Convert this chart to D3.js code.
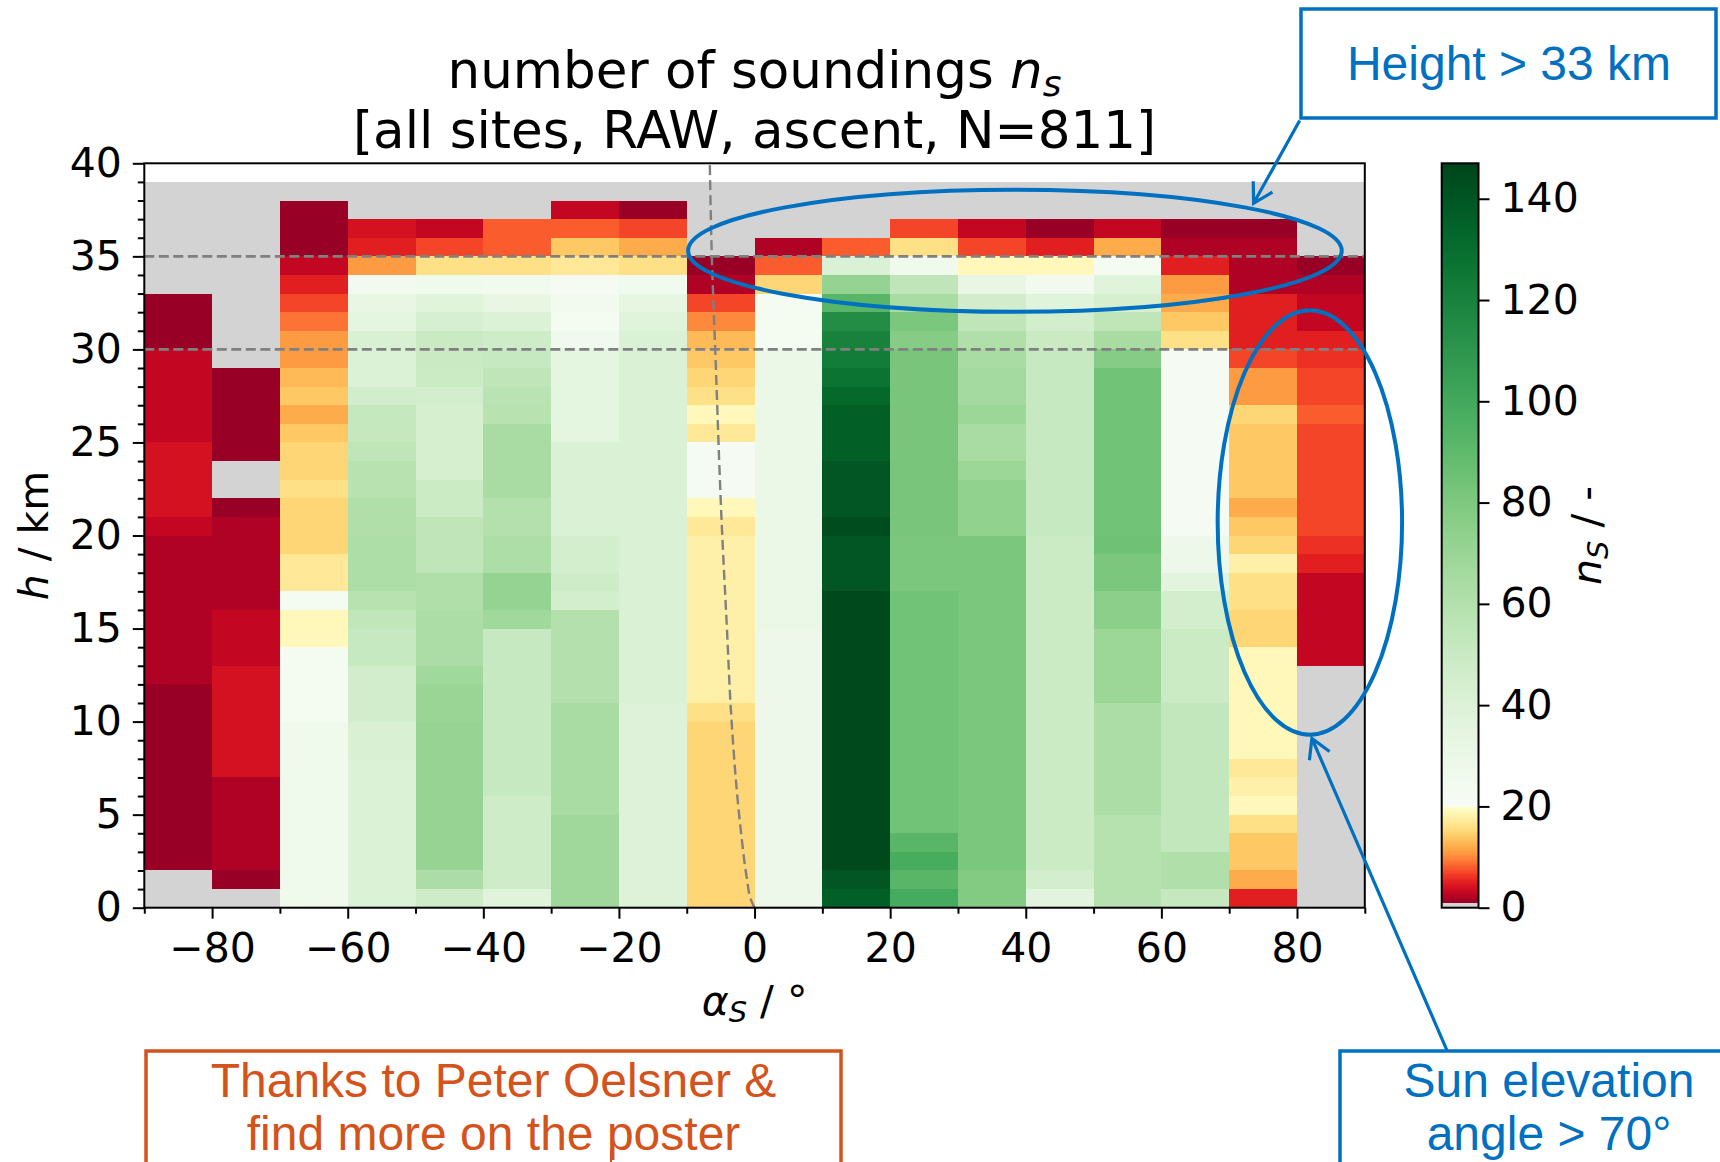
<!DOCTYPE html>
<html><head><meta charset="utf-8">
<script src="https://cdn.jsdelivr.net/npm/d3@7"></script>
<style>
body{margin:0;background:#fff;}
svg{display:block;}
.ax text{font-family:"DejaVu Sans",sans-serif;}
</style>
</head><body>
<svg id="chart" width="1720" height="1162"></svg>
<script>
// ---------------- data ----------------
const binStarts = [-90,-80,-70,-60,-50,-40,-30,-20,-10,0,10,20,30,40,50,60,70,80];
const binWidth = 10;      // degrees
const rowHeight = 1;      // km; row index r covers [r, r+1] km
// number of soundings per bin, listed from row 0 (0-1 km) to row 38 (38-39 km)
const n_m90 = [0,0,1,1,1,1,1,1,1,1,1,1,2,2,2,2,2,2,2,2,3,4,4,4,4,3,3,3,3,3,1,1,1,0,0,0,0,0,0];
const n_m80 = [0,1,2,2,2,2,2,4,4,4,4,4,4,3,3,3,2,2,2,2,2,1,0,0,1,1,1,1,1,0,0,0,0,0,0,0,0,0,0];
const n_m70 = [27,27,27,27,27,27,27,27,27,27,23,23,23,23,19,19,23,17,17,15,15,15,16,15,15,14,12,14,13,11,11,9,7,5,3,1,1,1,0];
const n_m60 = [40,40,40,40,40,40,40,40,42,42,46,46,46,51,51,54,58,62,62,62,61,61,58,58,55,52,52,46,40,40,42,35,32,24,11,5,4,0,0];
const n_m50 = [47,63,71,71,71,71,71,71,71,71,70,70,67,63,63,63,61,61,55,55,55,49,49,44,44,44,44,45,49,50,50,43,38,27,16,7,3,0,0];
const n_m40 = [38,48,48,48,48,48,51,51,51,51,51,51,51,51,51,67,72,72,62,62,60,60,64,64,64,64,58,57,55,51,47,40,32,25,16,8,8,0,0];
const n_m30 = [68,68,68,68,68,64,64,64,64,64,64,60,60,60,60,60,45,48,45,45,41,41,41,41,41,35,35,35,35,35,26,23,24,22,17,14,8,3,0];
const n_m20 = [39,39,39,39,39,39,39,39,39,39,39,41,41,41,41,41,41,41,41,41,41,41,41,41,41,41,41,41,41,41,41,38,33,25,16,12,7,1,0];
const n_m10 = [15,15,15,15,15,15,15,15,15,15,16,18,18,18,18,18,18,18,18,18,17,19,22,22,22,17,19,16,15,14,13,10,7,2,1,0,0,0,0];
const n_0   = [28,28,28,28,28,28,28,28,28,28,28,28,28,28,28,30,30,30,30,30,30,30,30,30,30,30,30,30,30,30,23,23,23,15,8,2,0,0,0];
const n_10  = [136,140,145,145,145,145,145,145,145,145,145,145,145,145,145,145,145,140,140,140,144,140,140,140,136,136,136,132,127,123,120,115,92,72,41,8,0,0,0];
const n_20  = [99,92,98,92,84,84,84,84,84,84,84,84,84,84,84,84,84,81,81,81,82,82,82,82,82,82,82,82,82,82,77,81,64,55,27,16,7,0,0];
const n_30  = [78,78,81,81,81,81,81,81,81,81,81,81,81,81,81,81,81,81,81,81,73,73,73,69,64,64,69,66,66,64,61,55,46,32,19,7,3,0,0];
const n_40  = [36,45,49,49,49,49,49,49,49,49,49,49,49,49,49,49,49,49,49,49,51,51,51,51,51,51,51,51,51,51,50,45,38,24,19,5,1,0,0];
const n_50  = [59,59,59,59,59,63,63,63,63,63,63,69,69,69,69,75,75,81,81,85,84,84,84,84,84,84,84,84,84,77,64,55,44,38,23,12,3,0,0];
const n_60  = [52,61,61,53,53,53,53,53,53,53,53,49,49,49,49,45,45,36,28,28,22,22,22,22,22,22,22,22,22,22,16,14,12,11,5,2,1,0,0];
const n_70  = [5,12,14,14,16,19,18,17,19,19,19,19,19,19,15,15,16,16,18,15,14,12,14,14,14,14,15,11,11,7,5,5,5,2,2,2,1,0,0];
const n_80  = [0,0,0,0,0,0,0,0,0,0,0,0,0,3,3,3,3,3,5,6,7,7,7,7,7,7,8,7,7,6,5,3,3,2,1,0,0,0,0];
const columns = [n_m90,n_m80,n_m70,n_m60,n_m50,n_m40,n_m30,n_m20,n_m10,n_0,n_10,n_20,n_30,n_40,n_50,n_60,n_70,n_80];

const xTicks = [-80,-60,-40,-20,0,20,40,60,80];
const xMinor = [-90,-70,-50,-30,-10,10,30,50,70,90];
const yTicks = [0,5,10,15,20,25,30,35,40];
const yMinor = [1,2,3,4,6,7,8,9,11,12,13,14,16,17,18,19,21,22,23,24,26,27,28,29,31,32,33,34,36,37,38,39];
const cbTicks = [0,20,40,60,80,100,120,140];
const vmax = 147;
const splitValue = 20;
const refHeights = [30, 35];
// horizon-dip curve (sun elevation in deg, height in km)
const curveAlpha = [0,-0.6,-1.1,-2.1,-3.4,-4.1,-4.8,-5.8,-6.3,-6.6];
const curveH     = [0,0.5,1.5,4.4,10.1,15.2,20.3,30,35,40];

// ---------------- layout ----------------
const L = 144.3, R = 1364.8, T = 163.3, B = 907.7;
const cbL = 1441.7, cbR = 1478.5;
const blue = "#0070c0", orange = "#d4531c";
const fontMain = '"DejaVu Sans", sans-serif';
const fontAnn = '"Liberation Sans", Arial, sans-serif';

const svg = d3.select("#chart");
const xs = d3.scaleLinear().domain([-90, 90]).range([L, R]);
const ys = d3.scaleLinear().domain([0, 40]).range([B, T]);
const yc = d3.scaleLinear().domain([0, vmax]).range([B, T]);

const colorOf = v => v < 1 ? "#d3d3d3"
  : v <= splitValue ? d3.interpolateYlOrRd((splitValue - v) / splitValue)
  : d3.interpolateGreens((v - splitValue) / (vmax - splitValue));

// ---------------- cells ----------------
const cells = [];
columns.forEach((col, i) => col.forEach((v, r) => cells.push({x0: binStarts[i], h0: r * rowHeight, v})));
svg.append("g").selectAll("rect").data(cells).join("rect")
  .attr("x", d => xs(d.x0))
  .attr("width", d => xs(d.x0 + binWidth) - xs(d.x0))
  .attr("y", d => ys(d.h0 + rowHeight))
  .attr("height", d => ys(d.h0) - ys(d.h0 + rowHeight))
  .attr("fill", d => colorOf(d.v))
  .attr("shape-rendering", "crispEdges");

// reference lines
svg.append("g").selectAll("line").data(refHeights).join("line")
  .attr("x1", xs(-90)).attr("x2", xs(90))
  .attr("y1", d => ys(d)).attr("y2", d => ys(d))
  .attr("stroke", "#808080").attr("stroke-width", 2.6).attr("stroke-dasharray", "10,4.5");

svg.append("path")
  .datum(curveH.map((h, i) => [curveAlpha[i], h]))
  .attr("d", d3.line().x(d => xs(d[0])).y(d => ys(d[1])).curve(d3.curveMonotoneY))
  .attr("fill", "none").attr("stroke", "#808080").attr("stroke-width", 2.4).attr("stroke-dasharray", "10,5");

// ---------------- axes ----------------
const fmt = d => (d < 0 ? "\u2212" + Math.abs(d) : "" + d);
const styleAxis = g => {
  g.attr("class", "ax");
  g.select(".domain").remove();
  g.selectAll(".tick line").attr("stroke", "#000").attr("stroke-width", 2);
  g.selectAll("text").attr("font-size", 41).attr("fill", "#000");
};
svg.append("g").attr("transform", `translate(0,${B})`)
  .call(d3.axisBottom(xs).tickValues(xTicks).tickFormat(fmt).tickSize(11).tickPadding(14)).call(styleAxis);
svg.append("g").attr("transform", `translate(0,${B})`)
  .call(d3.axisBottom(xs).tickValues(xMinor).tickFormat("").tickSize(6)).call(styleAxis);
svg.append("g").attr("transform", `translate(${L},0)`)
  .call(d3.axisLeft(ys).tickValues(yTicks).tickSize(11.5).tickPadding(11)).call(styleAxis);
svg.append("g").attr("transform", `translate(${L},0)`)
  .call(d3.axisLeft(ys).tickValues(yMinor).tickFormat("").tickSize(6.5)).call(styleAxis);

svg.append("rect").attr("x", L).attr("y", T).attr("width", R - L).attr("height", B - T)
  .attr("fill", "none").attr("stroke", "#000").attr("stroke-width", 2);

// ---------------- colorbar ----------------
const cbSteps = d3.range(0, vmax, 0.25);
svg.append("g").selectAll("rect").data(cbSteps).join("rect")
  .attr("x", cbL).attr("width", cbR - cbL)
  .attr("y", d => yc(Math.min(d + 0.25, vmax)))
  .attr("height", d => yc(d) - yc(Math.min(d + 0.25, vmax)) + 0.3)
  .attr("fill", d => colorOf(d + 0.125))
  .attr("shape-rendering", "crispEdges");
svg.append("rect").attr("x", cbL).attr("y", yc(vmax)).attr("width", cbR - cbL).attr("height", yc(0) - yc(vmax))
  .attr("fill", "none").attr("stroke", "#000").attr("stroke-width", 2);
svg.append("g").attr("transform", `translate(${cbR},0)`)
  .call(d3.axisRight(yc).tickValues(cbTicks).tickSize(11).tickPadding(11)).call(styleAxis);

// ---------------- text ----------------
const cx = (L + R) / 2;
const title = svg.append("text").attr("x", cx).attr("y", 88)
  .attr("text-anchor", "middle").attr("font-family", fontMain).attr("font-size", 51.5);
title.append("tspan").text("number of soundings ");
title.append("tspan").attr("font-style", "italic").text("n");
title.append("tspan").attr("font-style", "italic").attr("font-size", 36).attr("dy", 8).text("s");
title.append("tspan").attr("x", cx).attr("dy", 52).text("[all sites, RAW, ascent, N=811]");

const xl = svg.append("text").attr("x", cx).attr("y", 1015)
  .attr("text-anchor", "middle").attr("font-family", fontMain).attr("font-size", 41);
xl.append("tspan").attr("font-style", "italic").text("\u03b1");
xl.append("tspan").attr("font-style", "italic").attr("font-size", 29).attr("dy", 7).text("S");
xl.append("tspan").attr("dy", -7).text(" / \u00b0");

const yl = svg.append("text").attr("transform", `translate(48,${(T + B) / 2}) rotate(-90)`)
  .attr("text-anchor", "middle").attr("font-family", fontMain).attr("font-size", 41);
yl.append("tspan").attr("font-style", "italic").text("h");
yl.append("tspan").text(" / km");

const cl = svg.append("text").attr("transform", `translate(1601,${(T + B) / 2}) rotate(-90)`)
  .attr("text-anchor", "middle").attr("font-family", fontMain).attr("font-size", 41);
cl.append("tspan").attr("font-style", "italic").text("n");
cl.append("tspan").attr("font-style", "italic").attr("font-size", 29).attr("dy", 7).text("S");
cl.append("tspan").attr("dy", -7).text(" / -");

// ---------------- annotations ----------------
const ellipses = [
  {cx: 38.4, cy: 35.3, rx: 48.2, ry: 3.28},
  {cx: 81.9, cy: 20.7, rx: 13.6, ry: 11.4}
];
svg.append("g").selectAll("ellipse").data(ellipses).join("ellipse")
  .attr("cx", d => xs(d.cx)).attr("cy", d => ys(d.cy))
  .attr("rx", d => xs(d.cx + d.rx) - xs(d.cx)).attr("ry", d => ys(d.cy) - ys(d.cy + d.ry))
  .attr("fill", "none").attr("stroke", blue).attr("stroke-width", 4);

const arrows = [
  {from: [80.4, 42.3], to: [73.6, 37.85]},
  {from: [102.1, -7.65], to: [82.2, 9.1]}
];
arrows.forEach(a => {
  const x1 = xs(a.from[0]), y1 = ys(a.from[1]), x2 = xs(a.to[0]), y2 = ys(a.to[1]);
  const ang = Math.atan2(y1 - y2, x1 - x2), len = 22, sp = Math.PI / 6;
  const p = d3.path();
  p.moveTo(x1, y1); p.lineTo(x2, y2);
  p.moveTo(x2 + len * Math.cos(ang - sp), y2 + len * Math.sin(ang - sp));
  p.lineTo(x2, y2);
  p.lineTo(x2 + len * Math.cos(ang + sp), y2 + len * Math.sin(ang + sp));
  svg.append("path").attr("d", p.toString()).attr("fill", "none")
    .attr("stroke", blue).attr("stroke-width", 3.2).attr("stroke-linejoin", "miter");
});

// boxes
const boxes = [
  {x: 1301, y: 9, w: 415, h: 109, color: blue, cx: 1509, lines: ["Height > 33 km"], y0: 80},
  {x: 1340, y: 1051, w: 420, h: 160, color: blue, cx: 1549, lines: ["Sun elevation", "angle > 70\u00b0"], y0: 1097},
  {x: 146, y: 1051, w: 695, h: 160, color: orange, cx: 493.5, lines: ["Thanks to Peter Oelsner &", "find more on the poster"], y0: 1097}
];
boxes.forEach(b => {
  svg.append("rect").attr("x", b.x).attr("y", b.y).attr("width", b.w).attr("height", b.h)
    .attr("fill", "#fff").attr("stroke", b.color).attr("stroke-width", 3.5);
  b.lines.forEach((t, i) => svg.append("text").attr("x", b.cx).attr("y", b.y0 + i * 53)
    .attr("text-anchor", "middle").attr("font-family", fontAnn).attr("font-size", 48)
    .attr("fill", b.color).text(t));
});
svg.append("line").attr("x1", 611).attr("x2", 611).attr("y1", 1150).attr("y2", 1162)
  .attr("stroke", orange).attr("stroke-width", 2);
</script>
</body></html>
